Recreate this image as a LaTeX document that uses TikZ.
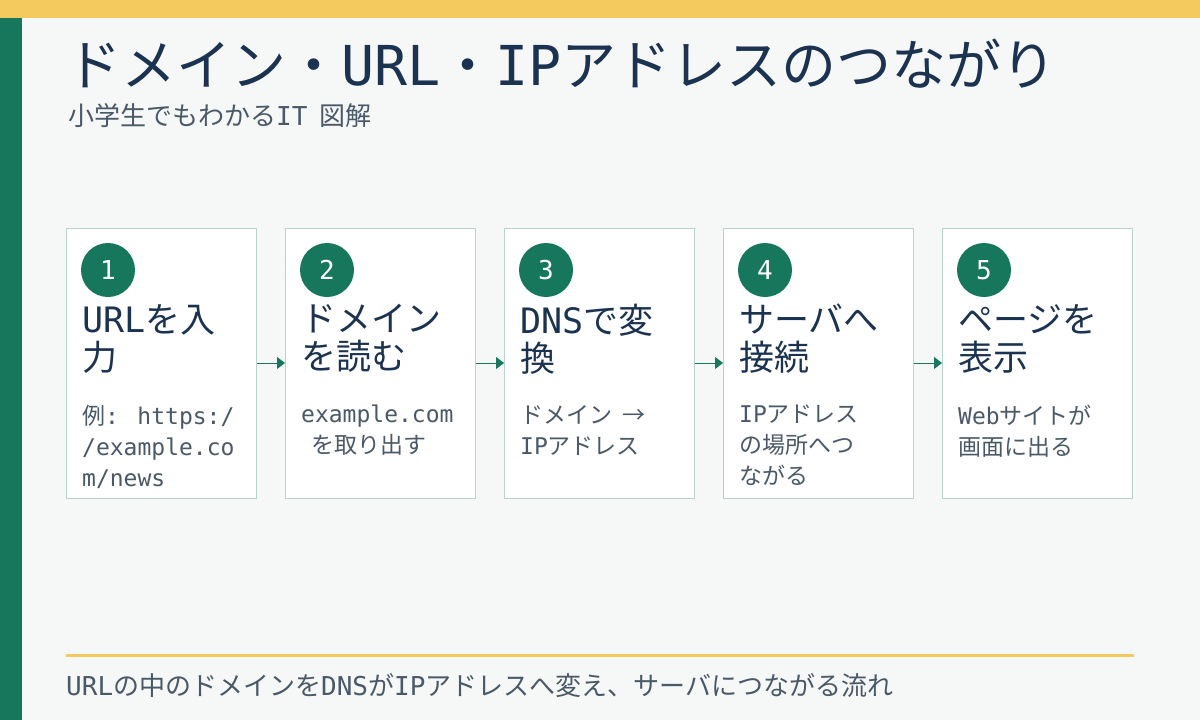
\documentclass[tikz,border=0pt]{standalone}
\usepackage{fontspec}
\setmainfont{Noto Sans CJK JP}
\newfontfamily\lat{DejaVu Sans Mono}
\newcommand\lt[1]{{\lat #1}}
\usetikzlibrary{arrows.meta,positioning}
\definecolor{bgc}{HTML}{F6F8F8}
\definecolor{gold}{HTML}{F4C95D}
\definecolor{teal}{HTML}{17775C}
\definecolor{navy}{HTML}{1B3350}
\definecolor{greyt}{HTML}{4A5968}
\definecolor{edge}{HTML}{B9D2CD}
\begin{document}
\begin{tikzpicture}
  [
    x=1pt, y=-1pt,
    card/.style =
      {draw=edge, fill=white, line width=0.8pt, minimum width=190pt, minimum height=270pt, anchor=north west, inner sep=0pt},
    num/.style =
      {circle, fill=teal, text=white, minimum size=54pt, inner sep=0pt, font=\lat\fontsize{26}{26}\selectfont},
    head/.style =
      {anchor=north west, align=left, text=navy, inner sep=0pt, font=\fontsize{35}{38}\selectfont},
    body/.style =
      {anchor=north west, align=left, text=greyt, inner sep=0pt, font=\fontsize{23}{31}\selectfont},
    link/.style = {-{Triangle[length=8pt,width=12pt]}, teal, line width=1pt}
  ]
  \useasboundingbox (0,0) rectangle (1200,720);
  \fill [bgc] (0,0) rectangle (1200,720);
  \fill [gold] (0,0) rectangle (1200,18);
  \fill [teal] (0,18) rectangle (22,720);
  \node [anchor=west, text=navy, inner sep=0pt, font=\fontsize{55}{55}\selectfont] (title) at (66,64) {ドメイン・\lt{URL}・\lt{IP}アドレスのつながり};
  \node [anchor=west, text=greyt, inner sep=0pt, font=\fontsize{26}{26}\selectfont] (sub) at (68,116) {小学生でもわかる\lt{IT} \ 図解};

  \node [card] (s1) at (66,228) {};
  \node [card] (s2) at (285,228) {};
  \node [card] (s3) at (504,228) {};
  \node [card] (s4) at (723,228) {};
  \node [card] (s5) at (942,228) {};

  \foreach \i/\h/\b in {
    1/{\lt{URL}を入\\力}/{例\lt{: https:/}\\\lt{/example.co}\\\lt{m/news}},
    2/{ドメイン\\を読む}/{\lt{example.com}\\\ \ を取り出す},
    3/{\lt{DNS}で変\\換}/{ドメイン \ →\\\lt{IP}アドレス},
    4/{サーバへ\\接続}/{\lt{IP}アドレス\\の場所へつ\\ながる},
    5/{ページを\\表示}/{\lt{Web}サイトが\\画面に出る}} {
    \node [num] (n\i) at ([xshift=42pt,yshift=-42pt]s\i.north west) {\i};
    \node [head] (h\i) at ([xshift=16pt,yshift=-76pt]s\i.north west) {\h};
    \node [body] (b\i) at ([xshift=16pt,yshift=-177pt]s\i.north west) {\b};
  }

  \draw [link] ([yshift=-135pt]s1.north east) -- ([yshift=-135pt]s2.north west);
  \draw [link] ([yshift=-135pt]s2.north east) -- ([yshift=-135pt]s3.north west);
  \draw [link] ([yshift=-135pt]s3.north east) -- ([yshift=-135pt]s4.north west);
  \draw [link] ([yshift=-135pt]s4.north east) -- ([yshift=-135pt]s5.north west);

  \draw [gold, line width=3pt] (66,655) -- (1134,655);
  \node [anchor=west, text=greyt, inner sep=0pt, font=\fontsize{26}{26}\selectfont] (foot) at (66,686) {\lt{URL}の中のドメインを\lt{DNS}が\lt{IP}アドレスへ変え、サーバにつながる流れ};
\end{tikzpicture}
\end{document}
